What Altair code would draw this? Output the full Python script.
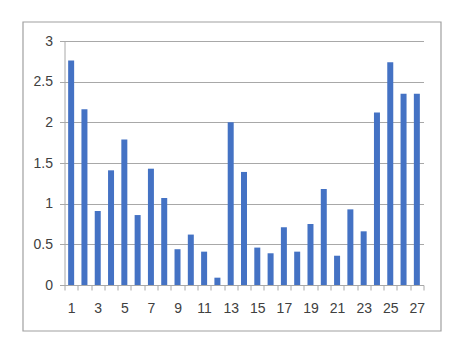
import altair as alt
import pandas as pd

categories = list(range(1, 28))
values = [2.76, 2.16, 0.91, 1.41, 1.79, 0.86, 1.43, 1.07, 0.44, 0.62,
          0.41, 0.09, 2.00, 1.39, 0.46, 0.39, 0.71, 0.41, 0.75, 1.18,
          0.36, 0.93, 0.66, 2.12, 2.74, 2.35, 2.35]
y_ticks = [0, 0.5, 1, 1.5, 2, 2.5, 3]
x_tick_positions = [i + 0.5 for i in range(0, 28)]

df = pd.DataFrame({"cat": categories, "val": values})

W, H = 359, 244
FONT = "Liberation Sans"

x_scale = alt.Scale(domain=[0.5, 27.5], nice=False, zero=False, padding=0)
y_scale = alt.Scale(domain=[0, 3], nice=False)

bars = alt.Chart(df).mark_bar(color="#4472C4", width=6).encode(
    x=alt.X("cat:Q", scale=x_scale,
            axis=alt.Axis(values=x_tick_positions, title=None, grid=False,
                          labelExpr="(datum.value + 0.5) % 2 == 1 && datum.value < 27 ? '' + (datum.value + 0.5) : ''",
                          labelOffset=W / 27 / 2, tickSize=5, tickColor="#a8a8a8",
                          domainColor="#a8a8a8", labelPadding=11, labelFont=FONT,
                          labelFontSize=14, labelColor="#404040", labelFlush=False,
                          labelOverlap=False)),
    y=alt.Y("val:Q", scale=y_scale,
            axis=alt.Axis(values=y_ticks, title=None, format="~g", grid=True,
                          gridColor="#a8a8a8", tickSize=5, tickColor="#a8a8a8",
                          domainColor="#a8a8a8", labelPadding=7, labelFont=FONT,
                          labelFontSize=14, labelColor="#404040")),
)

border = alt.Chart(pd.DataFrame({"a": [0]})).mark_rect(
    fill=None, stroke="#a0a0a0", strokeWidth=1.2, clip=False
).encode(
    x=alt.value(-41.5), x2=alt.value(376.5),
    y=alt.value(-19), y2=alt.value(290),
)

chart = alt.layer(border, bars).properties(
    width=W, height=H,
    autosize=alt.AutoSizeParams(type="none"),
    padding={"left": 64.5, "top": 41, "right": 49, "bottom": 68},
    background="white",
).configure_view(stroke=None)

chart.save("out.html", embed_options={"renderer": "svg", "actions": False})
